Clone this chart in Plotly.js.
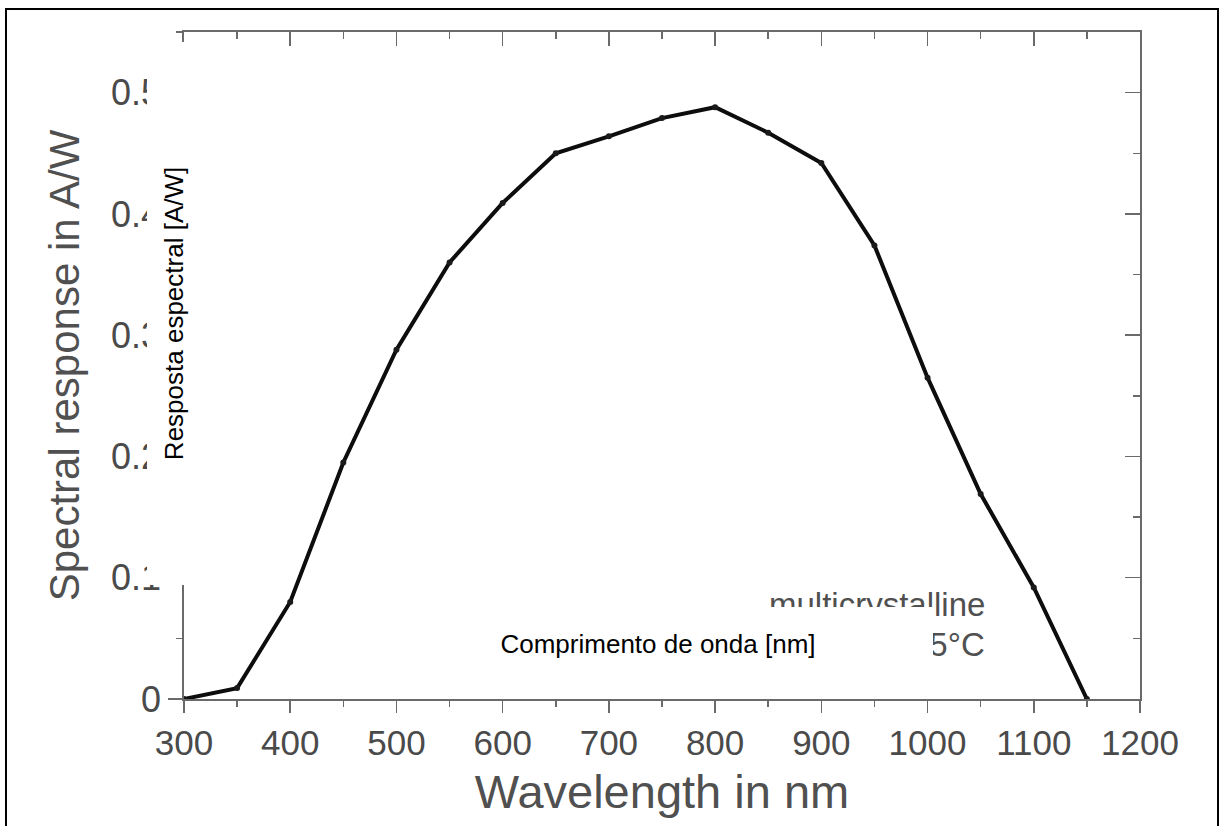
<!DOCTYPE html>
<html>
<head>
<meta charset="utf-8">
<script src="https://cdn.plot.ly/plotly-3.0.1.min.js"></script>
<style>
  html, body { margin: 0; padding: 0; background: #ffffff; }
  #chart { width: 1220px; height: 826px; }
</style>
</head>
<body>
<div id="chart"></div>
<script>
// ---- data ----
const wavelength = [300, 350, 400, 450, 500, 550, 600, 650, 700, 750, 800, 850, 900, 950, 1000, 1050, 1100, 1150];
const response   = [0.000, 0.009, 0.080, 0.195, 0.288, 0.360, 0.409, 0.450, 0.464, 0.479, 0.488, 0.467, 0.442, 0.374, 0.265, 0.169, 0.092, 0.000];

const xTickVals  = [300, 400, 500, 600, 700, 800, 900, 1000, 1100, 1200];
const xTickText  = ["300", "400", "500", "600", "700", "800", "900", "1000", "1100", "1200"];
const yTickVals  = [0, 0.1, 0.2, 0.3, 0.4, 0.5];
const yTickText  = ["0", "0.1", "0.2", "0.3", "0.4", "0.5"];

const xTitle     = "Wavelength in nm";
const yTitle     = "Spectral response in A/W";
const noteLine1  = "multicrystalline";
const noteLine2  = "25°C";
const ptYLabel   = "Resposta espectral [A/W]";
const ptXLabel   = "Comprimento de onda [nm]";

// ---- styling ----
const FONT = "Liberation Sans, Arial, Helvetica, sans-serif";
const axisGray = "#6a6a6a";
const textGray = "#4a4a4a";

const traces = [
  {
    x: wavelength, y: response,
    type: "scatter", mode: "lines+markers",
    line: { color: "#0d0d0d", width: 4 },
    marker: { color: "#1a1a1a", size: 6 },
    hoverinfo: "x+y", showlegend: false
  },
  {
    // carries the mirrored top/right frame axes
    x: wavelength, y: response,
    xaxis: "x2", yaxis: "y2",
    type: "scatter", mode: "lines",
    line: { color: "#111111", width: 0 },
    opacity: 0, hoverinfo: "skip", showlegend: false
  }
];

const layout = {
  width: 1220, height: 826, autosize: false,
  margin: { l: 184, r: 80, t: 32, b: 127, pad: 0 },
  paper_bgcolor: "#ffffff",
  plot_bgcolor: "#ffffff",
  font: { family: FONT, color: textGray },
  showlegend: false,
  xaxis: {
    range: [300, 1200],
    tickmode: "array", tickvals: xTickVals, ticktext: xTickText,
    ticks: "outside", ticklen: 12, tickwidth: 1.5, tickcolor: axisGray,
    minor: { tick0: 300, dtick: 50, ticks: "outside", ticklen: 6, tickwidth: 1.5, tickcolor: axisGray, showgrid: false },
    showline: true, linecolor: axisGray, linewidth: 1.8,
    showgrid: false, zeroline: false,
    tickfont: { family: FONT, size: 35, color: textGray },
    ticklabelstandoff: 0,
    title: { text: xTitle, font: { family: FONT, size: 47, color: "#505050" }, standoff: 14 }
  },
  yaxis: {
    range: [0, 0.55],
    tickmode: "array", tickvals: yTickVals, ticktext: yTickText,
    ticks: "outside", ticklen: 14, tickwidth: 1.5, tickcolor: axisGray,
    minor: { tick0: 0, dtick: 0.05, ticks: "outside", ticklen: 6, tickwidth: 1.5, tickcolor: axisGray, showgrid: false },
    showline: true, linecolor: axisGray, linewidth: 1.8,
    showgrid: false, zeroline: false,
    tickfont: { family: FONT, size: 36, color: textGray },
    ticklabelstandoff: 0,
    title: { text: yTitle, font: { family: FONT, size: 42, color: "#505050" }, standoff: 18 }
  },
  xaxis2: {
    overlaying: "x", side: "top", anchor: "y",
    range: [300, 1200],
    tickmode: "array", tickvals: xTickVals,
    ticks: "inside", ticklen: 14, tickwidth: 1.5, tickcolor: axisGray,
    minor: { tick0: 300, dtick: 50, ticks: "inside", ticklen: 7, tickwidth: 1.5, tickcolor: axisGray, showgrid: false },
    showline: true, linecolor: axisGray, linewidth: 1.8,
    showgrid: false, zeroline: false, showticklabels: false
  },
  yaxis2: {
    overlaying: "y", side: "right", anchor: "x",
    range: [0, 0.55],
    tickmode: "array", tickvals: yTickVals,
    ticks: "inside", ticklen: 15, tickwidth: 1.5, tickcolor: axisGray,
    minor: { tick0: 0, dtick: 0.05, ticks: "inside", ticklen: 7, tickwidth: 1.5, tickcolor: axisGray, showgrid: false },
    showline: true, linecolor: axisGray, linewidth: 1.8,
    showgrid: false, zeroline: false, showticklabels: false
  },
  annotations: [
    {
      xref: "paper", yref: "paper", x: 0.840, y: 0.141,
      xanchor: "right", yanchor: "middle",
      text: noteLine1, showarrow: false,
      font: { family: FONT, size: 33, color: "#505050" }
    },
    {
      xref: "paper", yref: "paper", x: 0.840, y: 0.081,
      xanchor: "right", yanchor: "middle",
      text: noteLine2, showarrow: false,
      font: { family: FONT, size: 33, color: "#505050" }
    },
    {
      xref: "paper", yref: "paper", x: -0.011, y: 0.578,
      xanchor: "center", yanchor: "middle",
      text: ptYLabel, textangle: -90, showarrow: false,
      width: 543, height: 53, bgcolor: "#ffffff", borderpad: 0, borderwidth: 0,
      font: { family: FONT, size: 26, color: "#000000" }
    },
    {
      xref: "paper", yref: "paper", x: 0.496, y: 0.0825,
      xanchor: "center", yanchor: "middle",
      text: ptXLabel, showarrow: false,
      width: 550, height: 74, bgcolor: "#ffffff", borderpad: 0, borderwidth: 0,
      font: { family: FONT, size: 26, color: "#000000" }
    }
  ],
  shapes: [
    {
      type: "rect", xref: "paper", yref: "paper", layer: "above",
      x0: -0.1862, x1: 1.0816, y0: -0.26, y1: 1.0345,
      line: { color: "#000000", width: 2 }, fillcolor: "rgba(0,0,0,0)"
    }
  ]
};

Plotly.newPlot("chart", traces, layout, { staticPlot: true, displayModeBar: false });
</script>
</body>
</html>
